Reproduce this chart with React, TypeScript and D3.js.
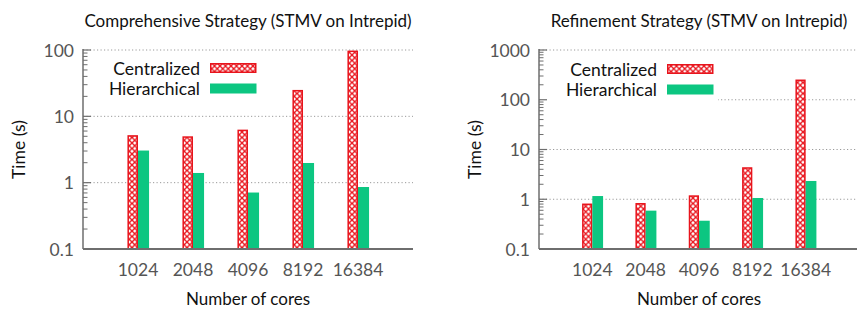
import React from "react";
import * as d3 from "d3";

const categories = ["1024", "2048", "4096", "8192", "16384"];
const seriesNames = ["Centralized", "Hierarchical"];
const compCentralized = [5.2, 5.0, 6.3, 25, 98];
const compHierarchical = [3.05, 1.4, 0.71, 1.98, 0.86];
const refCentralized = [0.82, 0.84, 1.2, 4.4, 255];
const refHierarchical = [1.16, 0.59, 0.37, 1.06, 2.33];
const compTicks = [0.1, 1, 10, 100];
const refTicks = [0.1, 1, 10, 100, 1000];
const titles = [
  "Comprehensive Strategy (STMV on Intrepid)",
  "Refinement Strategy (STMV on Intrepid)",
];

const FONT = "Lato, 'Open Sans', sans-serif";
const RED = "#e8141c";
const GREEN = "#0cc681";
const AXIS = "#6e6e6e";

type PanelProps = {
  left: number;
  right: number;
  top: number;
  bottom: number;
  ticks: number[];
  cent: number[];
  hier: number[];
  title: string;
  legendX: number;
  legendY: number;
};

function Panel({ left, right, top, bottom, ticks, cent, hier, title, legendX, legendY }: PanelProps) {
  const y = d3
    .scaleLog()
    .domain([ticks[0], ticks[ticks.length - 1]])
    .range([bottom, top]);
  const x = d3.scaleLinear().domain([-1, categories.length]).range([left, right]);
  const slot = x(1) - x(0);
  const bw = slot * 0.192;
  const minor: number[] = [];
  ticks.slice(0, -1).forEach((t) => {
    for (let k = 2; k <= 9; k++) minor.push(t * k);
  });
  const midX = (left + Math.min(right, 859)) / 2;
  return (
    <g>
      {ticks.map((t) => (
        <line
          key={"g" + t}
          x1={left}
          x2={Math.min(right, 857)}
          y1={y(t)}
          y2={y(t)}
          stroke="#9a9a9a"
          strokeWidth={1}
          strokeDasharray="1.2,2.3"
        />
      ))}
      <rect x={left + 2} y={legendY - 13} width={legendX + 49 - left} height={45} fill="#fff" />
      {categories.map((c, i) => (
        <g key={c}>
          <rect
            x={x(i) - bw + 0.75}
            y={y(cent[i]) + 0.75}
            width={bw - 1.5}
            height={bottom - y(cent[i]) - 0.75}
            fill="url(#hatch)"
            stroke={RED}
            strokeWidth={1.5}
          />
          <rect x={x(i)} y={y(hier[i])} width={bw + 0.5} height={bottom - y(hier[i])} fill={GREEN} />
        </g>
      ))}
      <line x1={left} x2={left} y1={top - 1} y2={bottom} stroke={AXIS} strokeWidth={1.5} />
      <line x1={left} x2={Math.min(right, 857)} y1={bottom} y2={bottom} stroke={AXIS} strokeWidth={2} />
      {ticks.map((t) => (
        <g key={"t" + t}>
          <line x1={left} x2={left + 8} y1={y(t)} y2={y(t)} stroke={AXIS} strokeWidth={1.2} />
          <text
            x={left - 9}
            y={y(t)}
            textAnchor="end"
            dominantBaseline="central"
            fontSize={17.5}
            fill="#555"
            fontFamily={FONT}
          >
            {t}
          </text>
        </g>
      ))}
      {minor.map((t) => (
        <line key={"m" + t} x1={left} x2={left + 4.5} y1={y(t)} y2={y(t)} stroke={AXIS} strokeWidth={1} />
      ))}
      {categories.map((c, i) => (
        <text
          key={"x" + c}
          x={x(i)}
          y={bottom + 20}
          textAnchor="middle"
          dominantBaseline="central"
          fontSize={17.5}
          fill="#555"
          fontFamily={FONT}
        >
          {c}
        </text>
      ))}
      <text x={midX} y={20} textAnchor="middle" dominantBaseline="central" fontSize={17} fill="#111" fontFamily={FONT}>
        {title}
      </text>
      <text
        x={midX}
        y={bottom + 49}
        textAnchor="middle"
        dominantBaseline="central"
        fontSize={17}
        fill="#111"
        fontFamily={FONT}
      >
        Number of cores
      </text>
      <text
        transform={`translate(${left - 65},${(top + bottom) / 2}) rotate(-90)`}
        textAnchor="middle"
        dominantBaseline="central"
        fontSize={17.5}
        fill="#111"
        fontFamily={FONT}
      >
        Time (s)
      </text>
      {seriesNames.map((s, i) => (
        <g key={s}>
          <text
            x={legendX - 10}
            y={legendY + i * 20.5}
            textAnchor="end"
            dominantBaseline="central"
            fontSize={17.5}
            fill="#111"
            fontFamily={FONT}
          >
            {s}
          </text>
          {i === 0 ? (
            <rect
              x={legendX + 0.75}
              y={legendY - 4.25}
              width={45}
              height={8.5}
              fill="url(#hatch)"
              stroke={RED}
              strokeWidth={1.5}
            />
          ) : (
            <rect x={legendX} y={legendY + 20.5 - 5} width={46.5} height={10} fill={GREEN} />
          )}
        </g>
      ))}
    </g>
  );
}

export default function App() {
  return (
    <svg
      width={857}
      height={309}
      style={{ position: "absolute", left: 0, top: 0, background: "#fff" }}
      fontFamily={FONT}
    >
      <defs>
        <pattern id="hatch" patternUnits="userSpaceOnUse" width={5.5} height={5.5}>
          <rect width={5.5} height={5.5} fill="#fff" />
          <path d="M0,0L5.5,5.5M5.5,0L0,5.5" stroke={RED} strokeWidth={1.3} />
        </pattern>
      </defs>
      <rect width={857} height={309} fill="#fff" />
      <Panel
        left={83}
        right={413}
        top={50}
        bottom={249}
        ticks={compTicks}
        cent={compCentralized}
        hier={compHierarchical}
        title={titles[0]}
        legendX={210}
        legendY={68}
      />
      <Panel
        left={539}
        right={859}
        top={50}
        bottom={249}
        ticks={refTicks}
        cent={refCentralized}
        hier={refHierarchical}
        title={titles[1]}
        legendX={667}
        legendY={69}
      />
    </svg>
  );
}
